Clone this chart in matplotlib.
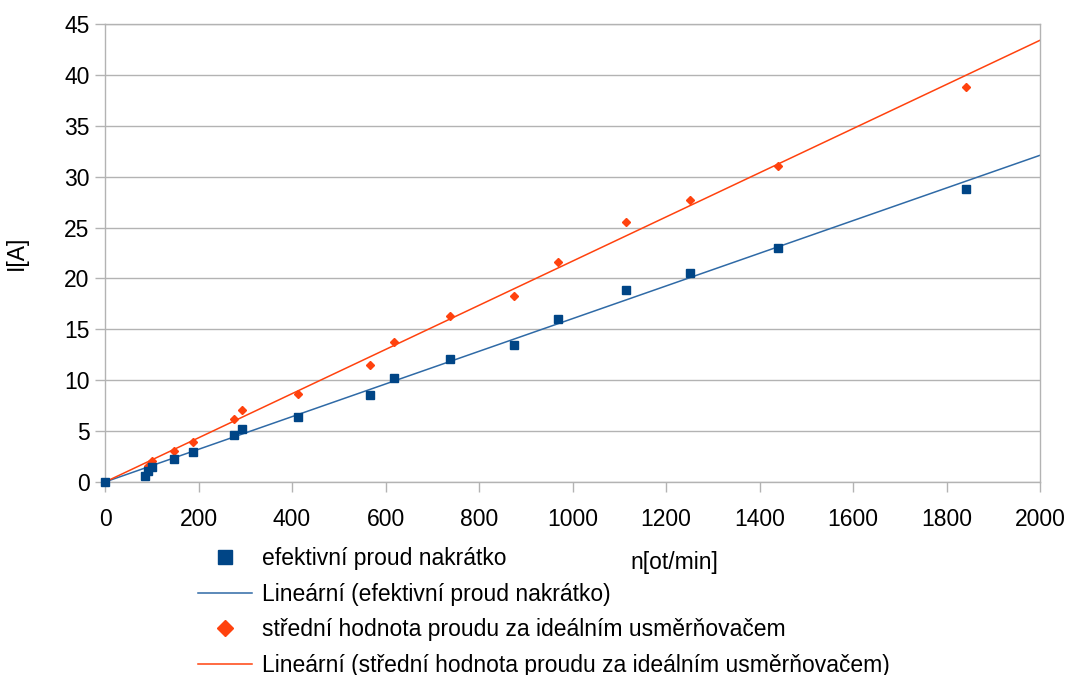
import matplotlib.pyplot as plt
from matplotlib.lines import Line2D

plt.rcParams['font.family'] = ['Liberation Sans', 'DejaVu Sans']

# otáčky [ot/min]
n_ef = [0, 86, 91, 100, 148, 188, 276, 292, 412, 567, 618, 738, 875, 969, 1114, 1251, 1440, 1842]
# efektivní proud nakrátko [A]
i_ef = [0, 0.55, 1.1, 1.5, 2.25, 2.9, 4.6, 5.25, 6.4, 8.5, 10.2, 12.1, 13.5, 16.0, 18.9, 20.5, 23.0, 28.8]

n_str = [0, 91, 100, 148, 188, 276, 292, 412, 567, 618, 738, 875, 969, 1114, 1251, 1440, 1842]
# střední hodnota proudu za ideálním usměrňovačem [A]
i_str = [0, 1.6, 2.05, 3.0, 3.95, 6.2, 7.1, 8.6, 11.5, 13.8, 16.3, 18.25, 21.6, 25.5, 27.7, 31.05, 38.8]

# lineární trendy (hodnoty na x = 0 a x = 2000)
trend_x = [0, 2000]
trend_ef = [0, 32.1]
trend_str = [0, 43.4]

blue = '#004586'
orange = '#ff420e'
grid = '#b3b3b3'
fs = 16.5

fig = plt.figure(figsize=(10.67, 6.75), dpi=100)
ax = fig.add_axes([105 / 1067, 1 - 482 / 675, 935 / 1067, 458 / 675])

ax.plot(trend_x, trend_ef, color='#2f6aa6', lw=1.1, zorder=2)
ax.plot(trend_x, trend_str, color=orange, lw=1.1, zorder=2)
ax.plot(n_str, i_str, ls='none', marker='D', ms=4.2, color=orange, zorder=3, clip_on=False)
ax.plot(n_ef, i_ef, ls='none', marker='s', ms=5.5, color=blue, zorder=4, clip_on=False)

ax.set_xlim(0, 2000)
ax.set_ylim(0, 45)
ax.set_xticks(range(0, 2001, 200))
ax.set_yticks(range(0, 46, 5))
ax.yaxis.grid(True, color=grid, lw=1)
ax.set_axisbelow(True)
for s in ax.spines.values():
    s.set_color(grid)
    s.set_linewidth(1)
ax.tick_params(colors=grid, labelcolor='black', labelsize=fs, length=7, width=1)
ax.tick_params(axis='x', pad=12)
ax.tick_params(axis='y', pad=4)
ax.set_ylabel('I[A]', fontsize=fs, labelpad=26)

fig.text(630 / 1067, 1 - 562 / 675, 'n[ot/min]', fontsize=fs, va='center')

handles = [
    Line2D([], [], ls='none', marker='s', ms=10, color=blue),
    Line2D([], [], color='#2f6aa6', lw=1.1),
    Line2D([], [], ls='none', marker='D', ms=8, color=orange),
    Line2D([], [], color=orange, lw=1.1),
]
labels = [
    'efektivní proud nakrátko',
    'Lineární (efektivní proud nakrátko)',
    'střední hodnota proudu za ideálním usměrňovačem',
    'Lineární (střední hodnota proudu za ideálním usměrňovačem)',
]
fig.legend(handles, labels, loc='upper left', bbox_to_anchor=(198 / 1067, 1 - 547 / 675),
           frameon=False, fontsize=fs, handlelength=2.35, handletextpad=0.45,
           labelspacing=0.55, borderpad=0, borderaxespad=0)

fig.savefig('out.png', dpi=100, facecolor='white')
